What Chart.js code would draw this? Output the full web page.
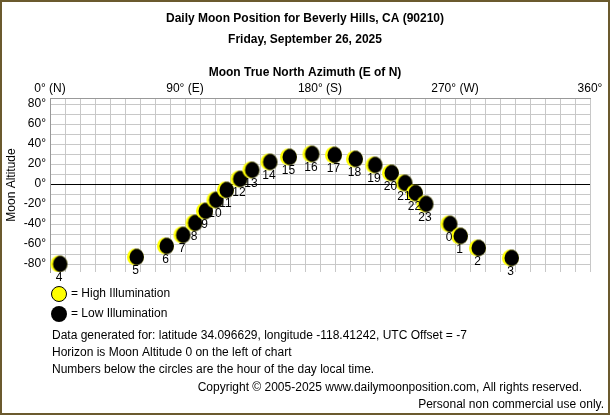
<!DOCTYPE html>
<html>
<head>
<meta charset="utf-8">
<script src="https://cdn.jsdelivr.net/npm/chart.js@4"></script>
<style>
  html, body { margin: 0; padding: 0; background: #fff; }
  #wrap { position: relative; width: 606px; height: 411px; border: 2px solid #6b5a2e; }
  canvas { position: absolute; left: -2px; top: -2px; }
</style>
</head>
<body>
<div id="wrap"><canvas id="moon" width="610" height="415"></canvas></div>
<script>
// data
const hours = [4, 5, 6, 7, 8, 9, 10, 11, 12, 13, 14, 15, 16, 17, 18, 19, 20, 21, 22, 23, 0, 1, 2, 3];
const azimuth = [6, 57, 77, 88, 96, 103, 110, 117, 126, 134, 146, 159, 174, 189, 203, 216, 227, 236, 243, 250, 266, 273, 285, 307];
const altitude = [-80, -73, -62, -51, -39, -27, -16, -6, 5, 14, 22, 27, 30, 29, 25, 19, 11, 1, -9, -20, -40, -52, -64, -74];
const xLabels = { 0: "0° (N)", 90: "90° (E)", 180: "180° (S)", 270: "270° (W)", 360: "360°" };

const FONT = "'Liberation Sans', Arial, sans-serif";

// crescent moon icon
function moonIcon() {
  const c = document.createElement("canvas");
  c.width = 19; c.height = 19;
  const g = c.getContext("2d");
  g.fillStyle = "#ffff00";
  g.beginPath(); g.arc(9.5, 9.5, 8.5, 0, Math.PI * 2); g.fill();
  g.save();
  g.beginPath(); g.arc(9.5, 9.5, 8.5, 0, Math.PI * 2); g.clip();
  g.fillStyle = "#000";
  g.beginPath(); g.arc(12, 9.5, 8.5, 0, Math.PI * 2); g.fill();
  g.restore();
  return c;
}

// titles, hour numbers and footer text
const textPlugin = {
  id: "texts",
  afterDraw(chart) {
    const ctx = chart.ctx;
    ctx.save();
    ctx.fillStyle = "#000";
    ctx.textBaseline = "middle";
    ctx.textAlign = "center";
    ctx.font = "bold 12px " + FONT;
    ctx.fillText("Daily Moon Position for Beverly Hills, CA (90210)", 305, 19);
    ctx.fillText("Friday, September 26, 2025", 305, 40);
    ctx.fillText("Moon True North Azimuth (E of N)", 305, 73);

    ctx.font = "12px " + FONT;
    ctx.save();
    ctx.translate(12, 185);
    ctx.rotate(-Math.PI / 2);
    ctx.fillText("Moon Altitude", 0, 0);
    ctx.restore();

    const meta = chart.getDatasetMeta(0);
    meta.data.forEach((p, i) => {
      ctx.fillText(String(hours[i]), p.x, p.y + 14);
    });

    // legend
    ctx.fillStyle = "#ffff00";
    ctx.strokeStyle = "#000";
    ctx.beginPath(); ctx.arc(59, 294, 7.5, 0, Math.PI * 2); ctx.fill(); ctx.stroke();
    ctx.fillStyle = "#000";
    ctx.beginPath(); ctx.arc(59, 314, 8, 0, Math.PI * 2); ctx.fill();
    ctx.textAlign = "left";
    ctx.fillText("= High Illumination", 71, 294);
    ctx.fillText("= Low Illumination", 71, 314);
    ctx.fillText("Data generated for: latitude 34.096629, longitude -118.41242, UTC Offset = -7", 52, 336);
    ctx.fillText("Horizon is Moon Altitude 0 on the left of chart", 52, 353);
    ctx.fillText("Numbers below the circles are the hour of the day local time.", 52, 370);
    ctx.textAlign = "right";
    ctx.fillText("Copyright © 2005-2025 www.dailymoonposition.com, All rights reserved.", 582, 388);
    ctx.fillText("Personal non commercial use only.", 604, 405);
    ctx.restore();
  }
};

new Chart(document.getElementById("moon"), {
  type: "scatter",
  data: {
    datasets: [{
      data: azimuth.map((a, i) => ({ x: a, y: altitude[i] })),
      pointStyle: moonIcon(),
    }],
  },
  options: {
    responsive: false,
    animation: false,
    layout: { padding: { top: 62, left: 0, right: 20, bottom: 143 } },
    plugins: { legend: { display: false }, tooltip: { enabled: false } },
    scales: {
      x: {
        position: "top",
        min: 0, max: 360,
        afterBuildTicks: (s) => { s.ticks = []; for (let v = 0; v <= 360; v += 10) s.ticks.push({ value: v }); },
        afterFit: (s) => { s.height = 36; },
        ticks: {
          autoSkip: false, maxRotation: 0, color: "#000", padding: 2,
          font: { family: FONT, size: 12 },
          callback: (v) => xLabels[v] || "",
        },
        grid: { color: "#c8c8c8", drawTicks: false },
        border: { color: "#999" },
      },
      y: {
        min: -88, max: 86,
        afterBuildTicks: (s) => { s.ticks = []; for (let v = -80; v <= 80; v += 10) s.ticks.push({ value: v }); },
        afterFit: (s) => { s.width = 50; },
        ticks: {
          autoSkip: false, color: "#000", padding: 4,
          font: { family: FONT, size: 12 },
          callback: (v) => (v % 20 === 0 ? v + "°" : ""),
        },
        grid: {
          color: (c) => (c.tick && c.tick.value === 0 ? "#000" : "#c8c8c8"),
          drawTicks: false,
        },
        border: { color: "#999" },
      },
    },
  },
  plugins: [textPlugin],
});
</script>
</body>
</html>
